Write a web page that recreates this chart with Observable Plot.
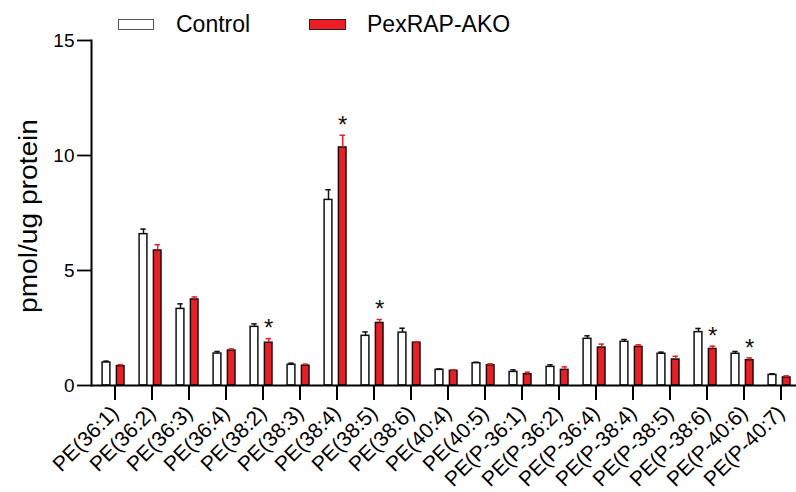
<!DOCTYPE html>
<html>
<head>
<meta charset="utf-8">
<script src="https://cdn.jsdelivr.net/npm/d3@7"></script>
<script src="https://cdn.jsdelivr.net/npm/@observablehq/plot@0.6"></script>
<style>
  body { margin: 0; background: #fff; font-family: "Liberation Sans", Arial, sans-serif; }
  #wrap { position: relative; width: 796px; height: 492px; }
  .leg { position: absolute; font-size: 23px; line-height: 23px; color: #000; }
  .box { position: absolute; box-sizing: border-box; }
</style>
</head>
<body>
<div id="wrap">
  <div class="box" style="left:118px;top:19px;width:36px;height:11px;border:1.5px solid #555;background:#fff;"></div>
  <div class="leg" style="left:176px;top:13px;">Control</div>
  <div class="box" style="left:309px;top:19px;width:37px;height:11px;border:1.5px solid #222;background:#EE1D23;"></div>
  <div class="leg" style="left:367px;top:13px;">PexRAP-AKO</div>
</div>
<script>
const categories = ["PE(36:1)", "PE(36:2)", "PE(36:3)", "PE(36:4)", "PE(38:2)", "PE(38:3)", "PE(38:4)", "PE(38:5)", "PE(38:6)", "PE(40:4)", "PE(40:5)", "PE(P-36:1)", "PE(P-36:2)", "PE(P-36:4)", "PE(P-38:4)", "PE(P-38:5)", "PE(P-38:6)", "PE(P-40:6)", "PE(P-40:7)"];
const controlMean = [1.00, 6.58, 3.33, 1.39, 2.55, 0.90, 8.07, 2.16, 2.30, 0.68, 0.97, 0.59, 0.81, 2.03, 1.90, 1.38, 2.32, 1.38, 0.46];
const controlSem  = [0.06, 0.22, 0.22, 0.09, 0.13, 0.07, 0.44, 0.17, 0.19, 0.04, 0.04, 0.09, 0.09, 0.13, 0.10, 0.07, 0.16, 0.10, 0.05];
const koMean      = [0.84, 5.87, 3.74, 1.52, 1.86, 0.86, 10.35, 2.72, 1.86, 0.64, 0.88, 0.49, 0.68, 1.65, 1.68, 1.13, 1.59, 1.10, 0.35];
const koSem       = [0.07, 0.25, 0.11, 0.07, 0.18, 0.07, 0.53, 0.15, 0.04, 0.04, 0.06, 0.09, 0.13, 0.15, 0.09, 0.14, 0.12, 0.10, 0.07];
const significant = ["PE(38:2)", "PE(38:4)", "PE(38:5)", "PE(P-38:6)", "PE(P-40:6)"];
const yTicks = [0, 5, 10, 15];

const control = categories.map((c, i) => ({cat: c, mean: controlMean[i], top: controlMean[i] + controlSem[i]}));
const ko = categories.map((c, i) => ({cat: c, mean: koMean[i], top: koMean[i] + koSem[i], sig: significant.includes(c)}));

const RED = "#EE1D23";
const font = "Liberation Sans, Arial, sans-serif";

const chart = Plot.plot({
  width: 796,
  height: 492,
  marginLeft: 91,
  marginRight: 0,
  marginTop: 40,
  marginBottom: 107,
  style: {fontFamily: font, background: "#fff", overflow: "visible"},
  x: {domain: categories, range: [87.9, 802.9], padding: 0},
  y: {domain: [0, 15]},
  marks: [
    // control bars
    Plot.barY(control, {x: "cat", y: "mean", fill: "#fff", stroke: "#111", strokeWidth: 1.5, insetLeft: 8.1, insetRight: 21.1}),
    Plot.ruleX(control, {x: "cat", y1: "mean", y2: "top", dx: -6.5, stroke: "#111", strokeWidth: 1.5}),
    Plot.tickY(control, {x: "cat", y: "top", stroke: "#111", strokeWidth: 1.5, insetLeft: 9.3, insetRight: 22.3}),
    // KO bars
    Plot.barY(ko, {x: "cat", y: "mean", fill: RED, stroke: "#111", strokeWidth: 1.5, insetLeft: 22.4, insetRight: 7.0}),
    Plot.ruleX(ko, {x: "cat", y1: "mean", y2: "top", dx: 7.7, stroke: RED, strokeWidth: 1.5}),
    Plot.tickY(ko, {x: "cat", y: "top", stroke: RED, strokeWidth: 1.5, insetLeft: 23.5, insetRight: 8.1}),
    // significance
    Plot.text(ko.filter(d => d.sig), {x: "cat", y: "top", text: () => "*", dx: 7.7, dy: -10, fontSize: 24, fill: "#111", lineAnchor: "middle"}),
    // axes
    Plot.axisY({ticks: yTicks, tickSize: 14, tickPadding: 3, fontSize: 19, label: null, strokeWidth: 1.8, color: "#000"}),
    Plot.axisX({tickRotate: -45, tickSize: 15, tickPadding: 9, dx: 2, fontSize: 21, label: null, strokeWidth: 2, color: "#000"}),
    Plot.frame({anchor: "left", stroke: "#000", strokeWidth: 2}),
    Plot.ruleY([0], {stroke: "#000", strokeWidth: 2}),
    Plot.text(["pmol/ug protein"], {frameAnchor: "left", dx: -63, dy: 3, rotate: -90, textAnchor: "middle", fontSize: 25, fill: "#000", className: "ylab"})
  ]
});
document.getElementById("wrap").appendChild(chart);
chart.style.position = "absolute";
chart.style.left = "0";
chart.style.top = "0";
chart.style.zIndex = "0";
document.querySelectorAll("#wrap > div").forEach(d => d.style.zIndex = "1");
d3.select(chart).selectAll(".ylab text").attr("textLength", 194).attr("lengthAdjust", "spacingAndGlyphs");
</script>
</body>
</html>
